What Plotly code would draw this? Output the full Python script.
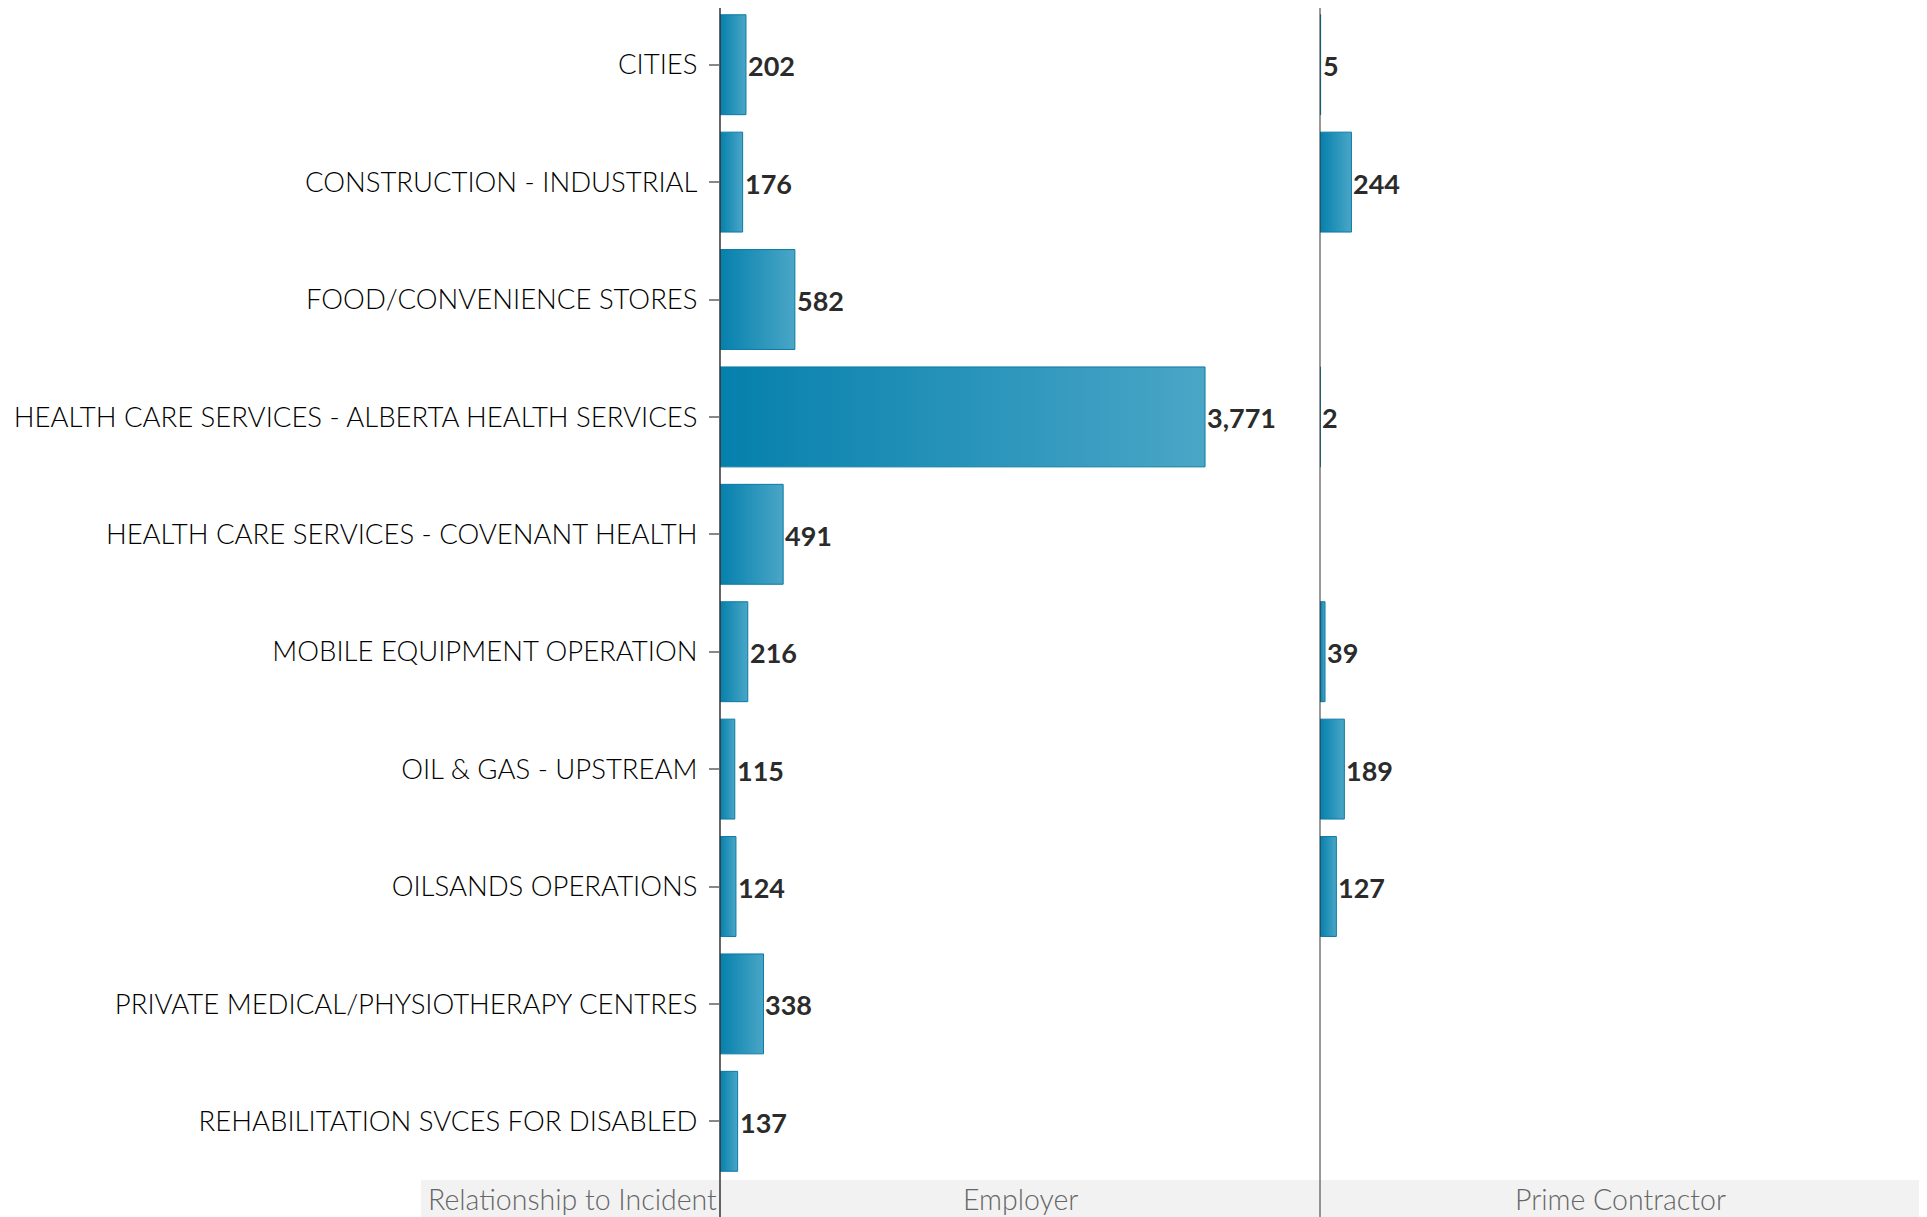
import plotly.graph_objects as go

categories = [
    "CITIES",
    "CONSTRUCTION - INDUSTRIAL",
    "FOOD/CONVENIENCE STORES",
    "HEALTH CARE SERVICES - ALBERTA HEALTH SERVICES",
    "HEALTH CARE SERVICES - COVENANT HEALTH",
    "MOBILE EQUIPMENT OPERATION",
    "OIL & GAS - UPSTREAM",
    "OILSANDS OPERATIONS",
    "PRIVATE MEDICAL/PHYSIOTHERAPY CENTRES",
    "REHABILITATION SVCES FOR DISABLED",
]
employer = [202, 176, 582, 3771, 491, 216, 115, 124, 338, 137]
prime_contractor = [5, 244, None, 2, None, 39, 189, 127, None, None]
panel_titles = ["Employer", "Prime Contractor"]
header_label = "Relationship to Incident"

# page body has an 8px margin, so the figure is sized to fit the window
W, H = 1919, 1209
x_left, x_mid, x_right = 712, 1312, 1913
band_top_px = 1172
xmax = 4665
half = 0.4255
y_range_top = -0.483

fig = go.Figure()

def add_bars(values, xa, ya):
    for i, v in enumerate(values):
        if v is None:
            continue
        xs = [0, v, v, 0, 0]
        ys = [i - half, i - half, i + half, i + half, i - half]
        fig.add_trace(go.Scatter(
            x=xs, y=ys, mode="lines", fill="toself",
            line=dict(color="#0B7AA2", width=1),
            fillgradient=dict(type="horizontal",
                              colorscale=[[0, "#0580AC"], [1, "#4AA6C7"]]),
            xaxis=xa, yaxis=ya, showlegend=False, hoverinfo="skip",
        ))
        fig.add_annotation(
            x=v, y=i, xref=xa, yref=ya, text=f"{v:,}", showarrow=False,
            xanchor="left", yanchor="middle", xshift=0, yshift=-1,
            font=dict(family="Lato", size=27, color="#2b2b2b", weight="bold"),
        )

add_bars(employer, "x", "y")
add_bars(prime_contractor, "x2", "y2")

ydom = [(H - band_top_px) / H, 1.0]
fig.update_layout(
    width=W, height=H,
    margin=dict(l=0, r=0, t=0, b=0),
    plot_bgcolor="white", paper_bgcolor="white",
    xaxis=dict(domain=[x_left / W, x_mid / W], range=[0, xmax],
               showgrid=False, zeroline=False, showticklabels=False, showline=False),
    xaxis2=dict(domain=[x_mid / W, x_right / W], range=[0, xmax],
                showgrid=False, zeroline=False, showticklabels=False, showline=False),
    yaxis=dict(domain=ydom, range=[9.5, y_range_top], tickvals=list(range(len(categories))),
               ticktext=categories, ticks="outside", ticklen=10, tickcolor="#888",
               tickwidth=1.5, showgrid=False, zeroline=False, showline=False,
               ticklabelstandoff=6,
               tickfont=dict(family="Lato", size=27.5, color="#000", weight=300)),
    yaxis2=dict(domain=ydom, range=[9.5, y_range_top], anchor="x2", matches="y",
                showticklabels=False, showgrid=False, zeroline=False, showline=False),
    font=dict(family="Lato"),
)

band_top = (H - band_top_px) / H
fig.add_shape(type="rect", xref="paper", yref="paper", x0=413 / W, x1=x_right / W,
              y0=0, y1=band_top, fillcolor="#F2F2F2", line=dict(width=0), layer="below")
fig.add_shape(type="line", xref="paper", yref="paper", x0=x_left / W, x1=x_left / W,
              y0=0, y1=1, line=dict(color="#333", width=1.5))
fig.add_shape(type="line", xref="paper", yref="paper", x0=x_mid / W, x1=x_mid / W,
              y0=0, y1=1, line=dict(color="#333", width=1))

band_mid = band_top / 2
bandfont = dict(family="Lato", size=28.5, color="#666", weight=300)
fig.add_annotation(xref="paper", yref="paper", x=(x_left - 1) / W, y=band_mid,
                   text=header_label, showarrow=False, xanchor="right", yanchor="middle",
                   font=bandfont)
fig.add_annotation(xref="paper", yref="paper", x=(x_left + x_mid) / 2 / W, y=band_mid,
                   text=panel_titles[0], showarrow=False, xanchor="center", yanchor="middle",
                   font=bandfont)
fig.add_annotation(xref="paper", yref="paper", x=(x_mid + x_right) / 2 / W, y=band_mid,
                   text=panel_titles[1], showarrow=False, xanchor="center", yanchor="middle",
                   font=bandfont)

fig.write_html("out.html")
